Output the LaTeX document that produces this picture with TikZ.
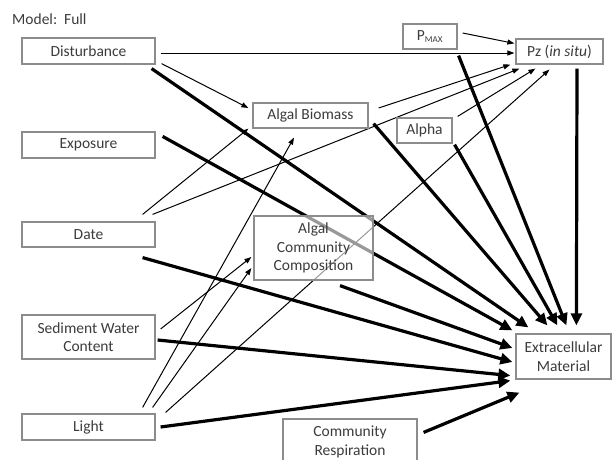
\documentclass[tikz,border=0pt]{standalone}
\usepackage{fontspec}
\setmainfont{Carlito}
\usetikzlibrary{arrows.meta,calc}
\pgfdeclarelayer{bg}
\pgfsetlayers{bg,main}
\definecolor{boxgray}{RGB}{140,140,140}
\definecolor{textgray}{RGB}{60,60,60}
\begin{document}
\begin{tikzpicture}[x=1pt,y=-1pt,
  box/.style={draw=boxgray, line width=1.2pt, fill=white, text=textgray, inner sep=0pt, align=center, font=\fontsize{15.5}{18.5}\selectfont},
  thinarrow/.style={line width=1pt, draw=black, -{Triangle[length=7pt,width=5pt]}},
  thickarrow/.style={line width=3.2pt, draw=black, -{Triangle[length=12pt,width=11pt]}}]
\useasboundingbox (0,0) rectangle (613,459);
\node[anchor=west, text=textgray, inner sep=0pt, font=\fontsize{15.5}{18.5}\selectfont] (title) at (12,19) {Model:\ \ Full};
\node[box, minimum width=133pt, minimum height=26pt] (dist) at (88.5,51) {Disturbance};
\node[box, minimum width=133pt, minimum height=26pt] (expo) at (88.5,145) {Exposure};
\node[box, minimum width=133pt, minimum height=25pt] (date) at (88.5,234.5) {Date};
\node[box, minimum width=133pt, minimum height=44pt] (sed) at (88.5,337) {Sediment Water\\Content};
\node[box, minimum width=133pt, minimum height=26pt] (light) at (88.5,427) {Light};
\node[box, minimum width=115pt, minimum height=25pt] (ab) at (310.5,115.5) {Algal Biomass};
\node[box, minimum width=55pt, minimum height=25pt] (alpha) at (424.5,130.5) {Alpha};
\node[box, minimum width=54pt, minimum height=25pt] (pmax) at (430,36.5) {P\textsubscript{\fontsize{9}{9}\selectfont MAX}};
\node[box, minimum width=87pt, minimum height=25pt] (pz) at (559.5,51.5) {Pz (\textit{in situ})};
\node[box, fill opacity=0.6, text opacity=1, minimum width=119pt, minimum height=64pt] (acc) at (313.5,248) {Algal\\Community\\Composition};
\node[box, minimum width=95pt, minimum height=45pt] (em) at (563.5,356.5) {Extracellular\\Material};
\node[box, minimum width=134pt, minimum height=46pt] (cr) at (350,442) {Community\\Respiration};
\begin{pgfonlayer}{bg}
\fill[white] (0,0) rectangle (613,459);
% thin arrows
\draw[thinarrow] ($(dist.east)+(5,2)$) -- ($(pz.west)+(-1,1.5)$);
\draw[thinarrow] ($(dist.south east)+(6,-1)$) -- ($(ab.west)+(-4,-7.5)$);
\draw[thinarrow] ($(pmax.east)+(5,-3.5)$) -- ($(pz.north west)+(-1,5)$);
\draw[thinarrow] ($(ab.east)+(10,-7.5)$) -- ($(pz.south west)+(-5,0)$);
\draw[thinarrow] ($(date.north east)+(-13,-7)$) -- ($(ab.south west)+(-4,0)$);
\draw[thinarrow] ($(date.north east)+(-3,-7)$) -- ($(pz.south west)+(4,4)$);
\draw[thinarrow] ($(alpha.north east)+(5,-1)$) -- ($(pz.south west)+(20,4)$);
\draw[thinarrow] ($(light.north east)+(10,-1)$) -- ($(pz.south west)+(34,5)$);
\draw[thinarrow] ($(light.north east)+(-13,-6)$) -- ($(ab.south)+(-16.5,9)$);
\draw[thinarrow] ($(light.north east)+(-3,-6)$) -- ($(acc.west)+(-2,20)$);
\draw[thinarrow] ($(sed.east)+(5,-8)$) -- ($(acc.west)+(-2,9)$);
% thick arrows
\draw[thickarrow] ($(dist.south east)+(-4,4)$) -- ($(em.north west)+(13,-6)$);
\draw[thickarrow] ($(expo.north east)+(7,5)$) -- ($(em.north west)+(-3,-3)$);
\draw[thickarrow] ($(date.south east)+(-13,10)$) -- ($(em.west)+(-3,5.5)$);
\draw[thickarrow] ($(acc.south)+(26.5,5)$) -- ($(em.west)+(-3,-8.5)$);
\draw[thickarrow] ($(sed.east)+(2,3)$) -- ($(em.south west)+(-5,-4)$);
\draw[thickarrow] ($(light.east)+(5,0)$) -- ($(em.south west)+(-5,1)$);
\draw[thickarrow] ($(cr.north east)+(6,14)$) -- ($(em.south west)+(4,13)$);
\draw[thickarrow] ($(ab.south east)+(5,-5)$) -- ($(em.north west)+(32,-8)$);
\draw[thickarrow] ($(alpha.south east)+(2,1)$) -- ($(em.north west)+(42,-8)$);
\draw[thickarrow] ($(pmax.south east)+(1,6)$) -- ($(em.north west)+(51,-8)$);
\draw[thickarrow] ($(pz.south)+(17.5,4)$) -- ($(em.north west)+(61,-8)$);
\end{pgfonlayer}
\end{tikzpicture}
\end{document}
